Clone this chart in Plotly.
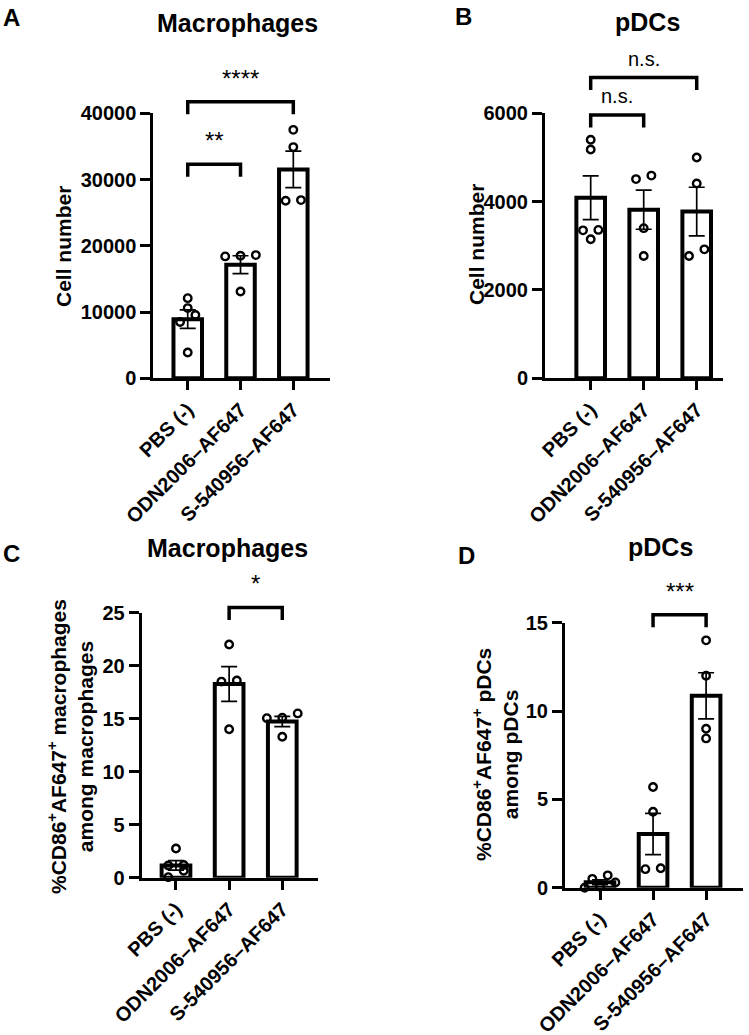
import numpy as np
import plotly.graph_objects as go

W, H = 749, 1035
FONT = "Liberation Sans, Arial, sans-serif"

groups = ["PBS (-)", "ODN2006–AF647", "S-540956–AF647"]

# A - macrophage cell number
mac_count_pbs = [12100, 10600, 9550, 8500, 3900]
mac_count_odn = [18600, 18400, 18500, 13100]
mac_count_s54 = [37500, 34900, 26900, 26800]
mac_count_ticks = [0, 10000, 20000, 30000, 40000]
mac_count_stats = [(0, 1, "**", 32300), (0, 2, "****", 41750)]

# B - pDC cell number
pdc_count_pbs = [5400, 5180, 3350, 3360, 3150]
pdc_count_odn = [4510, 4590, 3400, 2770]
pdc_count_s54 = [5000, 4410, 2770, 2920]
pdc_count_ticks = [0, 2000, 4000, 6000]
pdc_count_stats = [(0, 1, "n.s.", 5960), (0, 2, "n.s.", 6810)]

# C - %CD86+AF647+ macrophages
mac_pct_pbs = [2.75, 1.2, 1.15, 0.65, 0.05]
mac_pct_odn = [22.0, 18.6, 18.5, 14.0]
mac_pct_s54 = [15.5, 15.05, 15.1, 13.3]
mac_pct_ticks = [0, 5, 10, 15, 20, 25]
mac_pct_stats = [(1, 2, "*", 25.5)]

# D - %CD86+AF647+ pDCs
pdc_pct_pbs = [0.7, 0.5, 0.3, 0.05, 0.0]
pdc_pct_odn = [5.7, 4.3, 1.05, 1.1]
pdc_pct_s54 = [14.0, 12.0, 9.0, 8.45]
pdc_pct_ticks = [0, 5, 10, 15]
pdc_pct_stats = [(1, 2, "***", 15.45)]


def px_x(p):
    return p / W


def px_y(p):
    return 1 - p / H


def dodge(values, ymax, axis_px, row_px=8, step=0.29):
    """Spread points sitting in the same row sideways, Prism style"""
    vals = np.asarray(values, float)
    offsets = np.zeros(len(vals))
    tol = row_px / axis_px * ymax
    rows = []
    for idx in np.argsort(vals):
        if rows and vals[idx] - vals[rows[-1][0]] < tol:
            rows[-1].append(idx)
        else:
            rows.append([idx])
    for row in rows:
        n = len(row)
        for k, idx in enumerate(row):
            offsets[idx] = (k - (n - 1) / 2) * step
    return offsets


panels = [
    dict(data=[mac_count_pbs, mac_count_odn, mac_count_s54], ticks=mac_count_ticks,
         stats=mac_count_stats, box=(153.3, 330, 113.3, 378.3), xr=[-0.652, 2.695],
         head=90),
    dict(data=[pdc_count_pbs, pdc_count_odn, pdc_count_s54], ticks=pdc_count_ticks,
         stats=pdc_count_stats, box=(545, 723, 113.3, 378.3), xr=[-0.862, 2.496],
         head=90),
    dict(data=[mac_pct_pbs, mac_pct_odn, mac_pct_s54], ticks=mac_pct_ticks,
         stats=mac_pct_stats, box=(141.7, 318, 612.7, 877.7), xr=[-0.645, 2.672],
         head=60),
    dict(data=[pdc_pct_pbs, pdc_pct_odn, pdc_pct_s54], ticks=pdc_pct_ticks,
         stats=pdc_pct_stats, box=(565, 742.7, 622.7, 887.7), xr=[-0.66, 2.69],
         head=60),
]

fig = go.Figure()
layout = dict(width=W, height=H, margin=dict(l=0, r=0, t=0, b=0, autoexpand=False),
              template="none", paper_bgcolor="white", plot_bgcolor="rgba(0,0,0,0)",
              showlegend=False, annotations=[])

axis_common = dict(showline=True, linewidth=3, linecolor="black", ticks="outside",
                   tickwidth=3, tickcolor="black", showgrid=False, zeroline=False,
                   automargin=False,
                   tickfont=dict(family=FONT, size=20, color="black", weight="bold"))

for k, p in enumerate(panels):
    n = k + 1
    xa, ya = "x%d" % n, "y%d" % n
    xb, yb = "x%d" % (n + 4), "y%d" % (n + 4)
    left, right, top, bottom = p["box"]
    ymax = p["ticks"][-1]
    axis_px = bottom - top
    xdom = [px_x(left), px_x(right)]

    means = [np.mean(v) for v in p["data"]]
    sems = [np.std(v, ddof=1) / np.sqrt(len(v)) for v in p["data"]]

    fig.add_trace(go.Bar(
        x=[0, 1, 2], y=means, width=0.54, xaxis=xa, yaxis=ya,
        marker=dict(color="white", line=dict(color="black", width=4)),
        error_y=dict(type="data", array=sems, color="black", thickness=1.7, width=8),
        cliponaxis=False, hoverinfo="skip"))

    for i, vals in enumerate(p["data"]):
        offs = dodge(vals, ymax, axis_px)
        fig.add_trace(go.Scatter(
            x=i + offs, y=vals, mode="markers", xaxis=xa, yaxis=ya,
            marker=dict(symbol="circle-open", size=7.5, color="black",
                        line=dict(width=2.4, color="black")),
            cliponaxis=False, hoverinfo="skip"))

    # significance brackets live on a taller invisible subplot over the panel
    leg = 12.5 / axis_px * ymax
    for i, j, label, yb_val in p["stats"]:
        stars = "*" in label
        fig.add_trace(go.Scatter(
            x=[i, i, j, j], y=[yb_val - leg, yb_val, yb_val, yb_val - leg],
            mode="lines", line=dict(color="black", width=3.5),
            xaxis=xb, yaxis=yb, hoverinfo="skip"))
        layout["annotations"].append(dict(
            x=(i + j) / 2, y=yb_val, xref=xb, yref=yb, text=label,
            showarrow=False, yanchor="bottom", yshift=8 if stars else 6,
            font=dict(family=FONT, size=24 if stars else 20, color="black")))

    layout["xaxis" if n == 1 else "xaxis%d" % n] = dict(
        axis_common, domain=xdom, range=p["xr"], anchor=ya, ticklen=9,
        tickvals=[0, 1, 2], ticktext=groups, tickangle=-45)
    layout["yaxis" if n == 1 else "yaxis%d" % n] = dict(
        axis_common, domain=[px_y(bottom), px_y(top)], range=[0, ymax], anchor=xa,
        ticklen=10, tickvals=p["ticks"], ticktext=[str(t) for t in p["ticks"]])

    ytop = ymax * (axis_px + p["head"]) / axis_px
    layout["xaxis%d" % (n + 4)] = dict(domain=xdom, range=p["xr"], anchor=yb,
                                       visible=False, automargin=False)
    layout["yaxis%d" % (n + 4)] = dict(domain=[px_y(bottom), px_y(top - p["head"])],
                                       range=[0, ytop], anchor=xb, visible=False,
                                       automargin=False)


def note(text, x, y, size, bold=True, angle=0):
    layout["annotations"].append(dict(
        x=px_x(x), y=px_y(y), xref="paper", yref="paper", text=text,
        showarrow=False, xanchor="center", yanchor="middle", textangle=angle,
        font=dict(family=FONT, size=size, color="black",
                  weight="bold" if bold else "normal")))


# panel letters
note("A", 11, 17, 24)
note("B", 463, 16, 24)
note("C", 11, 553, 24)
note("D", 466, 555, 24)

# panel titles
note("Macrophages", 237, 23, 25)
note("pDCs", 647, 22, 25)
note("Macrophages", 227, 548, 25)
note("pDCs", 660, 547, 25)

# y axis titles
note("Cell number", 63, 247, 21, angle=-90)
note("Cell number", 477, 245, 21, angle=-90)
note("%CD86<sup>+</sup>AF647<sup>+</sup> macrophages<br>among macrophages",
     70, 747, 21, angle=-90)
note("%CD86<sup>+</sup>AF647<sup>+</sup> pDCs<br>among pDCs", 495, 755, 21, angle=-90)

fig.update_layout(**layout)
# the page's default body margin would push the fixed-size figure past the window
fig.write_html("out.html", config={"displayModeBar": False},
               post_script="document.body.style.margin = '0px';")
